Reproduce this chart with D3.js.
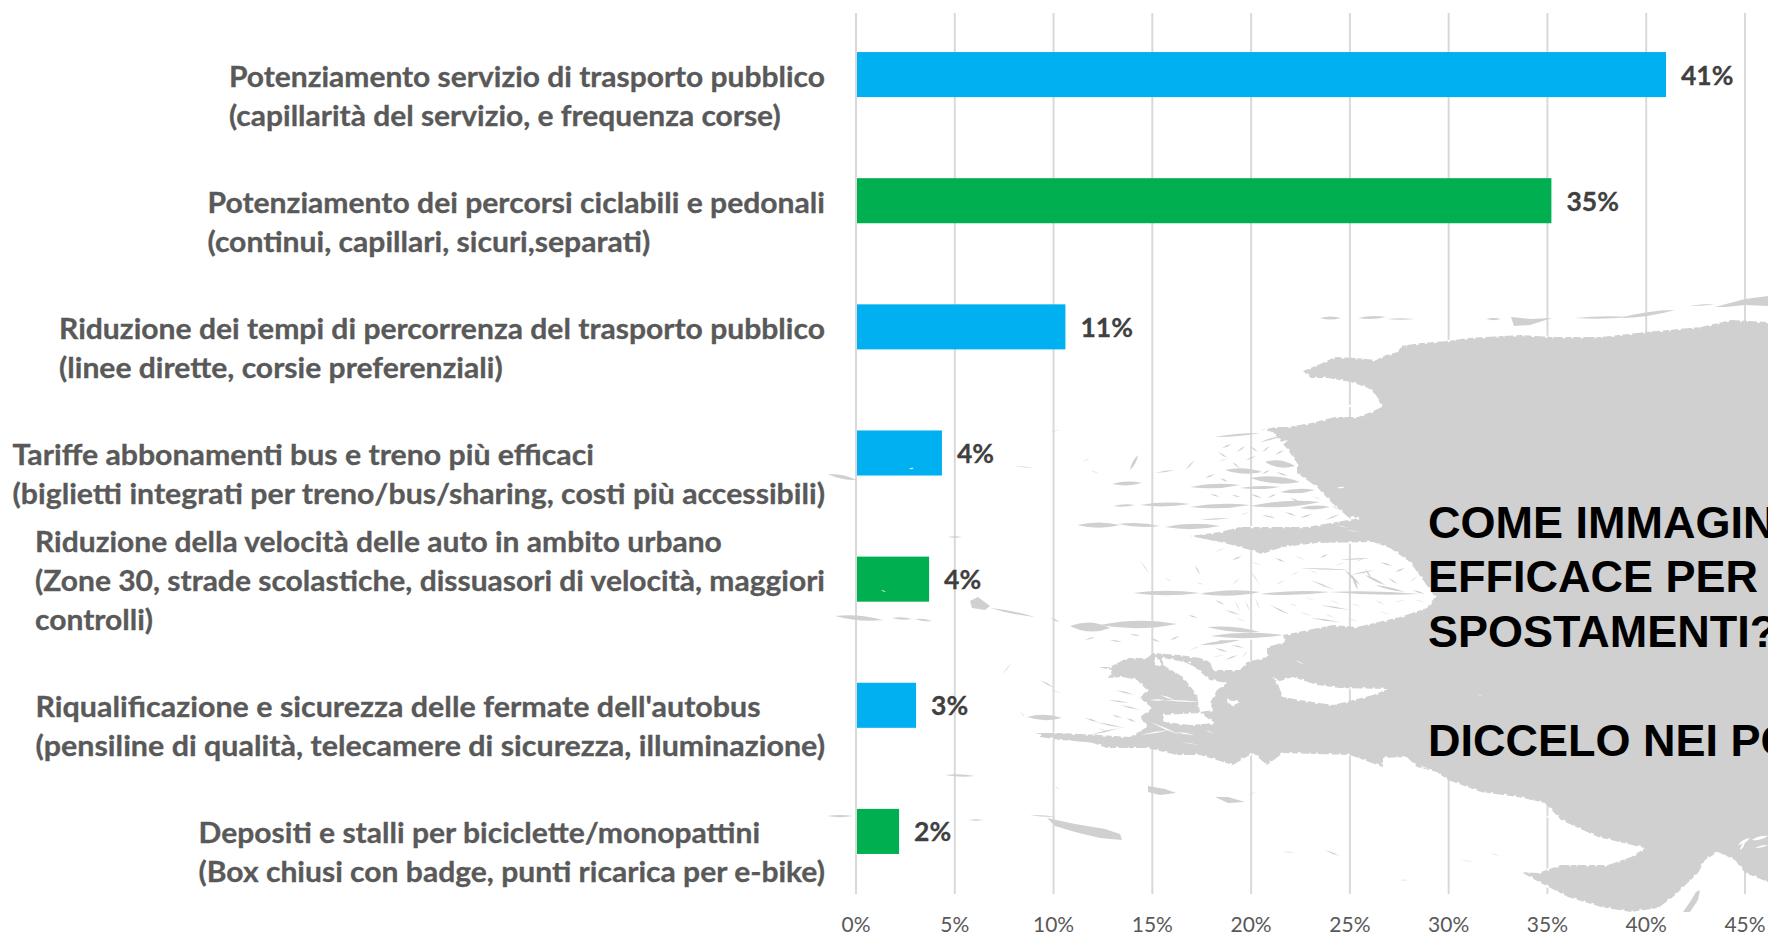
<!DOCTYPE html>
<html><head><meta charset="utf-8">
<script src="https://cdn.jsdelivr.net/npm/d3@7"></script>
<style>html,body{margin:0;padding:0;background:#fff;overflow:hidden}svg{display:block}</style>
</head><body><svg id="c" width="1768" height="934"></svg>
<script>
const categories = [
 ["Potenziamento servizio di trasporto pubblico","(capillarità del servizio, e frequenza corse)"],
 ["Potenziamento dei percorsi ciclabili e pedonali","(continui, capillari, sicuri,separati)"],
 ["Riduzione dei tempi di percorrenza del trasporto pubblico","(linee dirette, corsie preferenziali)"],
 ["Tariffe abbonamenti bus e treno più efficaci","(biglietti integrati per treno/bus/sharing, costi più accessibili)"],
 ["Riduzione della velocità delle auto in ambito urbano","(Zone 30, strade scolastiche, dissuasori di velocità, maggiori","controlli)"],
 ["Riqualificazione e sicurezza delle fermate dell'autobus","(pensiline di qualità, telecamere di sicurezza, illuminazione)"],
 ["Depositi e stalli per biciclette/monopattini","(Box chiusi con badge, punti ricarica per e-bike)"]
];
const values = [41.0,35.2,10.6,4.35,3.7,3.04,2.18];
const valueLabels = ["41%","35%","11%","4%","4%","3%","2%"];
const barGroups = ["pub","soft","pub","pub","soft","pub","soft"];
const tickValues = [0,5,10,15,20,25,30,35,40,45];
const calloutLines = ["COME IMMAGINI","EFFICACE PER","SPOSTAMENTI?","","DICCELO NEI PO"];
const calloutBaselines = [538,592,647,701,756];
const labelBlockWidths = [596,617.5,766,812.5,790,789.5,626.5];

// background map silhouette (decoration, outline)
const mapMain = [[1768,322],[1731,320],[1701,327],[1646,332],[1601,337],[1551,337],[1521,335],[1468,338],[1448,341],[1421,343],[1401,346],[1398,352],[1386,355],[1376,360],[1356,358],[1335,357],[1318,365],[1303,371],[1311,378],[1328,378],[1351,382],[1368,388],[1376,395],[1382,407],[1371,412],[1358,417],[1335,417],[1311,423],[1288,427],[1275,427],[1262,430],[1273,432],[1288,450],[1297,463],[1297,473],[1317,487],[1332,503],[1348,517],[1360,518],[1307,527],[1240,527],[1220,532],[1190,536],[1220,542],[1240,547],[1262,554],[1283,547],[1317,543],[1373,542],[1390,548],[1410,562],[1423,580],[1435,597],[1427,608],[1400,617],[1357,627],[1333,625],[1283,635],[1285,642],[1267,647],[1267,657],[1247,662],[1240,670],[1213,670],[1210,662],[1200,658],[1180,655],[1153,653],[1147,658],[1127,658],[1110,667],[1098,667],[1112,670],[1108,678],[1123,677],[1137,680],[1147,690],[1140,698],[1152,708],[1140,717],[1147,727],[1130,737],[1100,735],[1060,733],[1040,733],[1040,737],[1060,740],[1090,742],[1107,748],[1147,748],[1177,755],[1200,755],[1233,765],[1253,753],[1267,765],[1283,753],[1350,755],[1383,767],[1383,758],[1407,757],[1417,767],[1437,772],[1448,780],[1481,792],[1518,797],[1545,803],[1561,820],[1598,837],[1645,848],[1631,857],[1608,865],[1561,865],[1538,873],[1521,872],[1541,883],[1568,897],[1601,907],[1631,912],[1658,908],[1673,897],[1698,873],[1705,860],[1718,852],[1735,860],[1745,873],[1768,882]];
const mapHoles = [
 [[1277,682],[1293,677],[1317,685],[1340,688],[1388,689],[1373,695],[1333,705],[1300,700],[1283,697]],
 [[1163,658],[1190,663],[1210,680],[1227,683],[1217,690],[1210,703],[1213,710],[1200,712],[1197,695],[1183,677],[1163,665]],
 [[1227,700],[1240,702],[1232,706]],
 [[1163,715],[1200,713],[1215,723],[1190,725],[1165,722]],
 [[1155,658],[1160,660],[1160,666],[1155,665]]
];
const mapIslands = [
 [[1047,818],[1075,824],[1105,829],[1120,834],[1122,840],[1100,838],[1075,832],[1055,826]],
 [[1148,786],[1165,789],[1176,793],[1160,795],[1148,792]],
 [[1215,797],[1228,797],[1245,802],[1228,803]],
 [[970,601],[978,597],[990,606],[985,610],[972,608]],
 [[1683,912],[1690,902],[1696,892],[1700,890],[1698,900],[1690,912]],
 [[1511,317],[1530,319],[1552,318],[1530,325],[1514,326]],
 [[1715,307],[1745,299],[1768,296],[1768,306],[1745,305],[1725,307]]
];
// gray strokes [x1,y1,x2,y2,thickness]
const mapStrokes = [
 [828,474,857,480,5],[835,616,883,620,6],[892,618,912,619,3],[915,619,932,621,3],[990,608,1035,617,3],[945,775,975,776,3],[827,816,853,816,3],[969,820,983,820,2],[948,537,962,537,2],
 [1027,717,1062,718,7],[1035,733,1117,743,8],[1077,525,1120,525,7],[1118,524,1160,526,5],[1112,484,1142,483,5],[1113,506,1135,505,3],[1140,505,1190,504,5],[1190,507,1250,505,6],[1250,506,1320,502,8],[1165,527,1220,526,7],[1195,536,1240,540,8],
 [1133,593,1200,593,6],[1200,594,1260,592,7],[1260,594,1330,592,5],[1330,592,1420,594,4],
 [1070,626,1110,628,12],[1100,625,1177,624,10],[1207,627,1260,632,6],[1210,636,1283,635,7],[1200,645,1240,640,4],[1190,487,1240,485,6],[1225,470,1262,472,7],[1265,462,1295,466,9],[1250,478,1300,482,9],[1280,492,1315,490,6],[1240,488,1280,487,4],[1300,508,1330,507,5],
 [1320,318,1341,318,4],[1358,318,1386,317,4],[1386,319,1415,319,2],[1486,319,1501,319,3],[1575,318,1630,317,3],[1620,318,1675,310,5],[1690,306,1715,304,2],
 [1248,795,1256,792,1],[1060,790,1055,786,1],[1030,815,1056,817,2],
 [1050,690,1062,693,1],[1060,430,1050,432,1],[1082,462,1090,458,1],
 [1015,466,1035,468,1],[1130,470,1138,455,4],[1155,473,1175,470,2],[1185,470,1195,460,2],[1218,452,1228,458,2],[1260,442,1285,435,2],[1215,437,1260,433,3],
 [1200,520,1230,518,2],[1340,560,1370,558,2],[1300,568,1350,570,2],[1350,575,1375,570,2],[1365,575,1385,585,3],[1310,580,1335,590,2],[1375,585,1405,592,3],[1225,610,1240,615,2],[1270,605,1290,615,2],[1320,605,1350,610,2],[1310,618,1340,622,2],
 [1090,735,1120,728,2],[1095,722,1125,728,2],[1120,705,1140,710,2],[1108,700,1130,703,2],[1115,690,1135,695,2],[1180,660,1205,670,2],
 [1040,680,1055,688,2],[1025,717,1020,712,1],[1002,675,1012,662,1],[1090,470,1100,474,1],[1140,560,1150,575,1],[1195,565,1200,575,2],[1250,570,1260,585,1],[1215,600,1225,605,2],[1370,540,1380,530,1],
 [1400,880,1408,880,1],[1325,850,1340,856,2],[1490,853,1500,856,1],[1282,852,1295,852,1],[1475,862,1460,860,1],
 // fine texture: upper cluster
 [1222,448,1232,444,2],[1236,452,1246,446,2],[1250,446,1258,452,2],[1262,452,1270,446,2],[1275,455,1284,450,2],[1218,462,1228,458,1],[1232,462,1240,468,2],[1246,460,1256,456,2],[1262,474,1270,470,2],[1276,472,1288,476,2],[1300,476,1308,472,1],[1205,478,1215,474,2],[1220,478,1228,482,2],[1250,494,1262,498,2],[1268,498,1276,494,2],[1290,498,1300,502,2],[1312,496,1322,500,1],[1210,494,1220,497,2],[1232,495,1240,497,2],[1325,520,1340,514,2],[1340,510,1330,505,1],[1285,512,1296,516,2],[1300,518,1312,514,2],[1262,515,1275,518,2],[1240,515,1250,512,1],
 // fine texture: middle band
 [1215,552,1225,548,1],[1232,560,1242,556,2],[1250,562,1262,565,1],[1275,558,1285,562,2],[1295,556,1305,560,1],[1320,558,1328,554,2],[1335,566,1345,562,1],[1355,562,1365,558,1],[1380,562,1392,566,2],[1395,572,1405,568,2],[1410,582,1418,576,1],[1352,575,1358,590,3],[1345,570,1360,585,3],[1365,568,1372,580,2],[1388,578,1398,584,2],[1412,590,1425,594,2],[1310,570,1318,574,1],[1290,575,1300,572,1],[1275,585,1285,580,1],[1240,578,1232,585,1],[1165,578,1172,582,1],[1195,582,1205,585,1],
 // fine texture: under band D
 [1235,600,1240,612,1],[1245,600,1250,612,1],[1255,598,1260,610,1],[1236,618,1246,622,1],[1290,603,1298,607,1],[1305,598,1315,600,1],[1330,600,1340,604,1],[1350,603,1362,607,1],[1375,600,1385,605,1],[1395,602,1405,600,1],[1415,600,1425,602,1],[1300,612,1312,616,1],[1325,614,1335,618,1],[1348,618,1358,622,1],[1380,612,1390,614,1],
 [1188,615,1198,618,2],[1170,640,1180,636,2],[1150,638,1160,642,2],[1190,650,1200,646,1],[1050,618,1060,622,2],[1085,640,1095,637,2],[1110,640,1122,642,2],[1130,634,1140,636,2],[1215,648,1228,652,2],[1232,645,1244,648,2],[1225,660,1238,655,2],[1212,657,1225,655,1],[1242,658,1248,650,1],[1218,640,1230,642,2],
 [1085,718,1098,722,2],[1098,728,1108,732,1],[1112,715,1122,718,2],[1126,718,1136,722,2]
];
// white speckles over the gray coast [x1,y1,x2,y2,thickness]
const mapSpecks = [
 [1320,392,1345,385,5],[1350,395,1370,405,6],[1345,408,1365,400,4],[1290,410,1320,400,3],[1290,420,1305,412,3],[1275,447,1288,440,4],[1280,462,1295,455,2],[1288,475,1305,480,3],[1305,493,1320,500,3],[1318,510,1340,515,4],[1270,505,1300,510,3],
 [1337,488,1345,487,2],[1345,530,1360,532,1],[1290,545,1310,553,3],[1310,550,1325,546,2],[1330,548,1345,552,2],[1355,548,1372,550,2],[1212,635,1240,640,2],
 [1295,660,1305,665,1],[1272,677,1280,682,2],[1477,694,1482,696,1],[1200,758,1220,762,2],[1240,757,1250,766,2],[1290,757,1320,762,2],[1330,760,1345,766,1],[1395,760,1415,770,3],[1430,770,1445,780,2],[1520,800,1540,805,3],[1545,815,1560,825,3],
 [1710,860,1725,858,3],[1730,865,1740,868,2],[1430,770,1420,765,1],[1163,700,1200,702,2],[1130,722,1148,726,3],[1150,700,1165,700,2],[1180,735,1150,722,2],[1135,705,1145,712,2],[1268,588,1300,590,1],
 // white flecks inside the gray mass
 [1212,642,1228,646,4],[1232,642,1250,645,4],[1215,652,1228,658,4],[1235,650,1245,656,3],[1225,662,1240,660,3],[1240,636,1255,640,3],[1196,642,1210,648,2],[1175,645,1192,650,2],
 [1738,845,1750,838,4],[1752,840,1768,836,4],[1740,850,1745,842,3],[1755,848,1768,845,3],
 [1160,695,1175,700,2],[1140,735,1170,730,2],[1175,732,1195,735,2],[1205,730,1215,734,1],[1200,745,1180,742,1],
 [1237,548,1260,552,1],[1260,520,1285,522,1],[1300,522,1320,524,1],[1335,525,1350,528,1]
];
const barSpecks = [[909,469,914,468,2],[881,590,886,592,1.5]];

const svg = d3.select("#c");
const x = d3.scaleLinear().domain([0,45]).range([856,1745]);
const y = d3.scaleBand().domain(d3.range(values.length)).range([11.5,894.5]).paddingInner(81/126).paddingOuter(40.5/126);
const color = {pub:"#00b0f0",soft:"#00b050"};
const mapColor = "#d0d0d0";

// grid
svg.append("g").selectAll("line").data(tickValues).join("line")
 .attr("x1",d=>x(d)).attr("x2",d=>x(d)).attr("y1",13).attr("y2",894)
 .attr("stroke","#d9d9d9").attr("stroke-width",2);

// map
const line = d3.line();
const lens = ([a,b,c,d,w])=>{const mx=(a+c)/2,my=(b+d)/2,l=Math.hypot(c-a,d-b)||1,nx=-(d-b)/l*w*0.75,ny=(c-a)/l*w*0.75;
 return `M${a},${b}Q${mx+nx},${my+ny} ${c},${d}Q${mx-nx},${my-ny} ${a},${b}Z`;};
const m = svg.append("g");
m.append("path").attr("fill-rule","evenodd").attr("fill",mapColor)
 .attr("d",line(mapMain)+"Z"+mapHoles.map(h=>line(h)+"Z").join(""));
// rough coast: irregular white bites along the outline
m.append("path").attr("fill","none").attr("stroke","#fff").attr("stroke-width",2.5)
 .attr("stroke-dasharray","2 6 3 9 1 5 2 11 3 7")
 .attr("d",line(mapMain)+mapHoles.map(h=>line(h)+"Z").join(""));
m.selectAll(".isl").data(mapIslands).join("path").attr("class","isl").attr("fill",mapColor).attr("d",d=>line(d)+"Z");
m.selectAll(".sp").data(mapSpecks).join("path").attr("class","sp").attr("fill","#fff").attr("d",lens);
m.selectAll(".st").data(mapStrokes).join("path").attr("class","st").attr("fill",mapColor).attr("d",lens);

// bars
svg.append("g").selectAll("rect").data(values).join("rect")
 .attr("x",x(0)+1).attr("y",(d,i)=>y(i)).attr("height",y.bandwidth())
 .attr("width",d=>x(d)-x(0)-1).attr("fill",(d,i)=>color[barGroups[i]]);
svg.append("g").selectAll("path").data(barSpecks).join("path").attr("fill","#dfe8e8").attr("d",lens);

// value labels
svg.append("g").selectAll("text").data(values).join("text")
 .attr("x",d=>x(d)+15).attr("y",(d,i)=>y(i)+y.bandwidth()/2+10)
 .attr("font-family","Lato").attr("font-weight",700).attr("font-size",26.5).attr("fill","#404040")
 .attr("stroke","#404040").attr("stroke-width",0.3)
 .text((d,i)=>valueLabels[i]);

// category labels
const LABEL_RIGHT=825;
const lg = svg.append("g").attr("font-family","Lato").attr("font-weight",700).attr("font-size",28).attr("fill","#595959")
 .attr("stroke","#595959").attr("stroke-width",0.3);
categories.forEach((lines,i)=>{
  const g=lg.append("g");
  const base=y(i)+y.bandwidth()/2+12-39*(lines.length-2);
  const ts=lines.map((t,j)=>g.append("text").attr("y",base+39*j).text(t));
  const raw=ts.map(t=>t.node().getComputedTextLength());
  const k=labelBlockWidths[i]/d3.max(raw);
  const left=LABEL_RIGHT-labelBlockWidths[i];
  ts.forEach((t,j)=>t.attr("x",left).attr("textLength",raw[j]*k).attr("lengthAdjust","spacingAndGlyphs"));
});

// x axis labels
svg.append("g").selectAll("text").data(tickValues).join("text")
 .attr("x",d=>x(d)).attr("y",931.5).attr("text-anchor","middle")
 .attr("font-family","Lato").attr("font-size",21).attr("fill","#595959").text(d=>d+"%");

// callout
svg.append("g").selectAll("text").data(calloutLines).join("text")
 .attr("x",1428).attr("y",(d,i)=>calloutBaselines[i])
 .attr("font-family","Liberation Sans").attr("font-weight",700).attr("font-size",45).attr("fill","#000").text(d=>d);
</script></body></html>
